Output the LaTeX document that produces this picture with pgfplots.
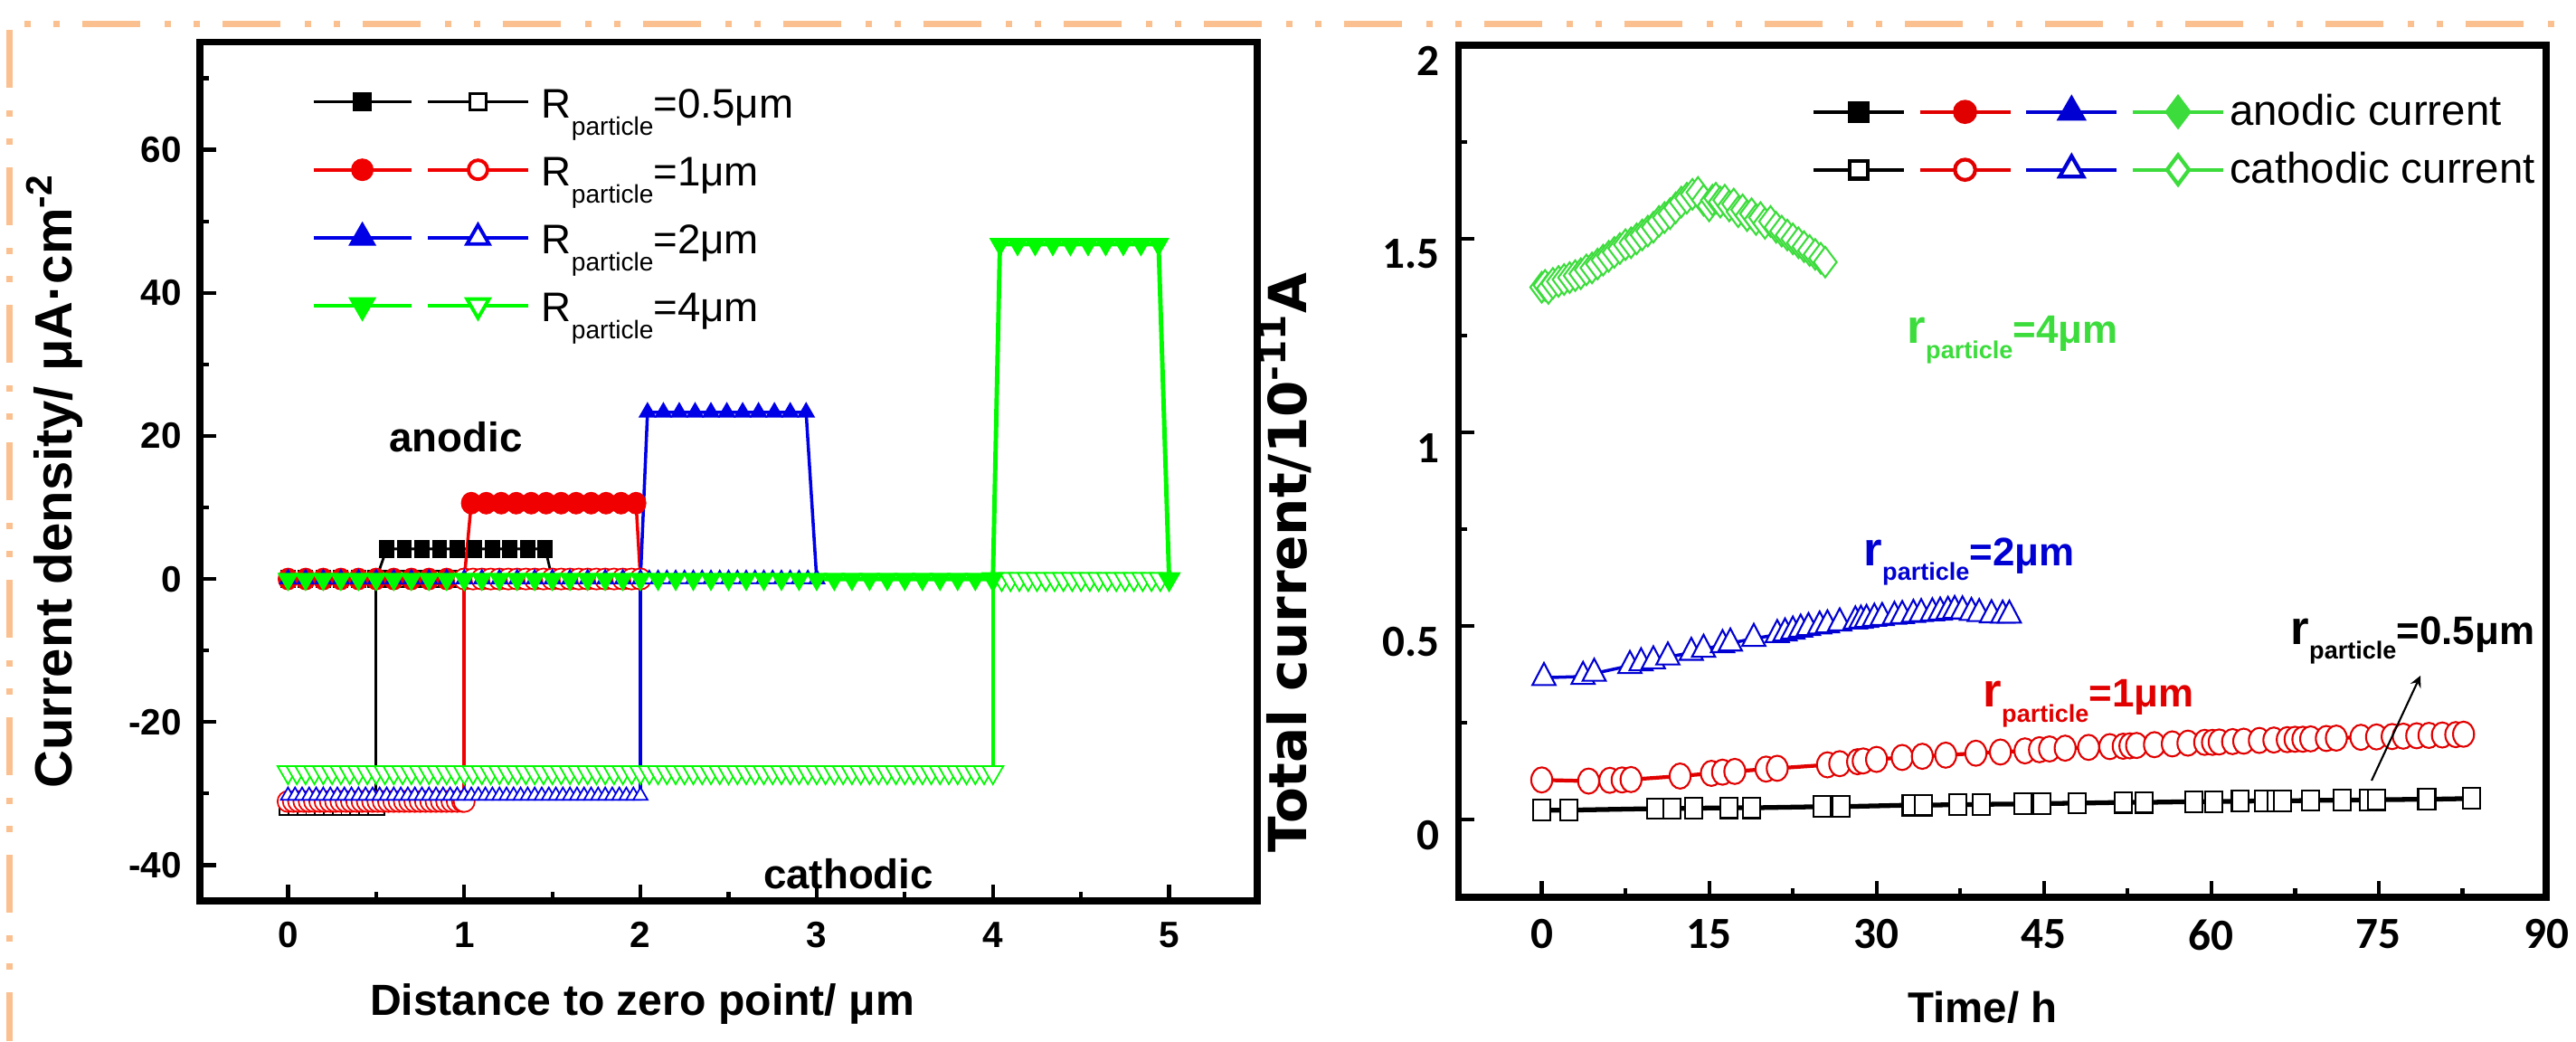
\documentclass[border=0pt]{standalone}
\usepackage{pgfplots}
\pgfplotsset{compat=1.18}
\usepackage{fontspec}
\setmainfont{Liberation Sans}
\newfontfamily\calfont{Carlito}
\newfontfamily\dvfont{DejaVu Sans}
\definecolor{bord}{RGB}{250,192,143}
\definecolor{lgreen}{RGB}{0,250,0}
\definecolor{rgreen}{RGB}{60,220,60}
\definecolor{lred}{RGB}{240,0,0}
\definecolor{lblue}{RGB}{0,0,230}
\definecolor{rred}{RGB}{225,0,0}
\definecolor{rblue}{RGB}{0,0,210}
\newcommand{\lsub}[1]{\raisebox{-5.3pt}{\fontsize{8}{8}\selectfont #1}}
\newcommand{\rsub}[1]{\raisebox{-4.8pt}{\fontsize{7.7}{7.7}\selectfont\bfseries #1}}
\pgfplotsset{
  myaxis/.style={
    scale only axis, anchor=south west,
    axis line style={line width=2pt},
    tick align=inside, tick pos=left,
    major tick length=0.18cm, minor tick length=0.1cm,
    every tick/.append style={black, line width=1.2pt},
    /pgf/number format/assume math mode=true,
  },
  limgA/.style={legend image code/.code={\draw[mark repeat=2,mark phase=2] plot coordinates {(0cm,0cm) (0.54cm,0cm) (1.08cm,0cm)}; \path (1.19cm,0cm);}},
  limgB/.style={legend image code/.code={\draw[mark repeat=2,mark phase=2] plot coordinates {(0cm,0cm) (0.555cm,0cm) (1.11cm,0cm)}; \path (1.24cm,0cm);}},
  rimgA/.style={legend image code/.code={\draw[mark repeat=2,mark phase=2] plot coordinates {(0cm,0cm) (0.5cm,0cm) (1.0cm,0cm)}; \path (1.10cm,0cm);}},
  rimgB/.style={legend image code/.code={\draw[mark repeat=2,mark phase=2] plot coordinates {(0cm,0cm) (0.5cm,0cm) (1.0cm,0cm)}; \path (1.05cm,0cm);}},
}
\begin{document}
\begin{tikzpicture}[x=1cm,y=1cm]
\useasboundingbox (0,0) rectangle (28.48,11.51);
% decorative frame
\draw[bord, line width=0.07cm, dash pattern=on 0.07cm off 0.25cm on 0.07cm off 0.25cm on 0.64cm off 0.27cm] (0.27,11.24) -- (28.48,11.24);
\draw[bord, line width=0.07cm, dash pattern=on 0.64cm off 0.25cm on 0.07cm off 0.24cm on 0.07cm off 0.25cm] (0.10,11.18) -- (0.10,0);

%================ LEFT PANEL =================
\begin{axis}[myaxis,
  at={(2.21cm,1.55cm)}, width=11.69cm, height=9.49cm,
  xmin=-0.5, xmax=5.5, ymin=-45, ymax=75,
  xtick={0,1,2,3,4,5}, ytick={-40,-20,0,20,40,60},
  minor xtick={0.5,1.5,2.5,3.5,4.5},
  minor ytick={-30,-10,10,30,50,70},
  xticklabel style={font=\bfseries\fontsize{11.5}{11.5}\selectfont, yshift=-0.11cm},
  yticklabel style={font=\bfseries\fontsize{11.5}{11.5}\selectfont, xshift=-0.08cm},
  legend style={draw=none, fill=none, at={(0.1052,0.971)}, anchor=north west,
    inner sep=0pt, column sep=0pt, row sep=0pt,
    nodes={inner sep=0pt, text height=0.555cm, text depth=0.195cm},
    font=\fontsize{13}{13}\selectfont},
  legend cell align=left, legend columns=2,
]
% black R=0.5
\addplot[forget plot, black, line width=0.8pt, mark=square*, mark size=2.2pt, mark options={line width=0.4pt, yscale=1.2}] coordinates {
(0,0)(0.1,0)(0.2,0)(0.3,0)(0.4,0)(0.5,0)(0.56,4.2)(0.66,4.2)(0.76,4.2)(0.86,4.2)(0.96,4.2)(1.06,4.2)(1.16,4.2)(1.26,4.2)(1.36,4.2)(1.46,4.2)(1.5,0)};
\addplot[forget plot, black, line width=0.8pt, mark=square*, mark size=2.6pt, mark options={fill=white, line width=0.5pt}] coordinates {
(0,-31.8)(0.05,-31.8)(0.1,-31.8)(0.15,-31.8)(0.2,-31.8)(0.25,-31.8)(0.3,-31.8)(0.35,-31.8)(0.4,-31.8)(0.45,-31.8)(0.5,-31.8)
(0.5,0)(0.55,0)(0.6,0)(0.65,0)(0.7,0)(0.75,0)(0.8,0)(0.85,0)(0.9,0)(0.95,0)(1,0)(1.05,0)(1.1,0)(1.15,0)(1.2,0)(1.25,0)(1.3,0)(1.35,0)(1.4,0)(1.45,0)(1.5,0)};
% red R=1
\addplot[forget plot, lred, line width=1pt, mark=*, mark size=3pt, mark options={line width=0.5pt, yscale=1.1}] coordinates {
(0,0)(0.1,0)(0.2,0)(0.3,0)(0.4,0)(0.5,0)(0.6,0)(0.7,0)(0.8,0)(0.9,0)(1,0)
(1.04,10.6)(1.125,10.6)(1.21,10.6)(1.295,10.6)(1.38,10.6)(1.465,10.6)(1.55,10.6)(1.635,10.6)(1.72,10.6)(1.805,10.6)(1.89,10.6)(1.975,10.6)(2,0)};
\addplot[forget plot, lred, line width=1pt, mark=*, mark size=3.3pt, mark options={fill=white, line width=0.5pt}] coordinates {
(0,-31.1)(0.03,-31.1)(0.06,-31.1)(0.09,-31.1)(0.12,-31.1)(0.15,-31.1)(0.18,-31.1)(0.21,-31.1)(0.24,-31.1)(0.27,-31.1)(0.3,-31.1)(0.33,-31.1)(0.36,-31.1)(0.39,-31.1)(0.42,-31.1)(0.45,-31.1)(0.48,-31.1)(0.51,-31.1)(0.54,-31.1)(0.57,-31.1)(0.6,-31.1)(0.63,-31.1)(0.66,-31.1)(0.69,-31.1)(0.72,-31.1)(0.75,-31.1)(0.78,-31.1)(0.81,-31.1)(0.84,-31.1)(0.87,-31.1)(0.9,-31.1)(0.93,-31.1)(0.96,-31.1)(0.99,-31.1)(1,-31.1)
(1,0)(1.05,0)(1.1,0)(1.15,0)(1.2,0)(1.25,0)(1.3,0)(1.35,0)(1.4,0)(1.45,0)(1.5,0)(1.55,0)(1.6,0)(1.65,0)(1.7,0)(1.75,0)(1.8,0)(1.85,0)(1.9,0)(1.95,0)(2,0)};
% blue R=2
\addplot[forget plot, lblue, line width=1pt, mark=triangle*, mark size=2.8pt, mark options={line width=0.5pt}] coordinates {
(0,0)(0.1,0)(0.2,0)(0.3,0)(0.4,0)(0.5,0)(0.6,0)(0.7,0)(0.8,0)(0.9,0)(1,0)(1.1,0)(1.2,0)(1.3,0)(1.4,0)(1.5,0)(1.6,0)(1.7,0)(1.8,0)(1.9,0)(2,0)
(2.04,23.3)(2.13,23.3)(2.22,23.3)(2.31,23.3)(2.4,23.3)(2.49,23.3)(2.58,23.3)(2.67,23.3)(2.76,23.3)(2.85,23.3)(2.94,23.3)(3,0)};
\addplot[forget plot, lblue, line width=1pt, mark=triangle*, mark size=2.6pt, mark options={fill=white, line width=0.5pt}] coordinates {
(0,-30.3)(0.04,-30.3)(0.08,-30.3)(0.12,-30.3)(0.16,-30.3)(0.2,-30.3)(0.24,-30.3)(0.28,-30.3)(0.32,-30.3)(0.36,-30.3)(0.4,-30.3)(0.44,-30.3)(0.48,-30.3)(0.52,-30.3)(0.56,-30.3)(0.6,-30.3)(0.64,-30.3)(0.68,-30.3)(0.72,-30.3)(0.76,-30.3)(0.8,-30.3)(0.84,-30.3)(0.88,-30.3)(0.92,-30.3)(0.96,-30.3)(1,-30.3)(1.04,-30.3)(1.08,-30.3)(1.12,-30.3)(1.16,-30.3)(1.2,-30.3)(1.24,-30.3)(1.28,-30.3)(1.32,-30.3)(1.36,-30.3)(1.4,-30.3)(1.44,-30.3)(1.48,-30.3)(1.52,-30.3)(1.56,-30.3)(1.6,-30.3)(1.64,-30.3)(1.68,-30.3)(1.72,-30.3)(1.76,-30.3)(1.8,-30.3)(1.84,-30.3)(1.88,-30.3)(1.92,-30.3)(1.96,-30.3)(2,-30.3)
(2,0)(2.05,0)(2.1,0)(2.15,0)(2.2,0)(2.25,0)(2.3,0)(2.35,0)(2.4,0)(2.45,0)(2.5,0)(2.55,0)(2.6,0)(2.65,0)(2.7,0)(2.75,0)(2.8,0)(2.85,0)(2.9,0)(2.95,0)(3,0)};
% green R=4
\addplot[forget plot, lgreen, line width=1pt, mark=triangle*, mark size=3.8pt, mark options={rotate=180, fill=white, line width=0.5pt}] coordinates {
(0,-27)(0.05,-27)(0.1,-27)(0.15,-27)(0.2,-27)(0.25,-27)(0.3,-27)(0.35,-27)(0.4,-27)(0.45,-27)(0.5,-27)(0.55,-27)(0.6,-27)(0.65,-27)(0.7,-27)(0.75,-27)(0.8,-27)(0.85,-27)(0.9,-27)(0.95,-27)(1,-27)(1.05,-27)(1.1,-27)(1.15,-27)(1.2,-27)(1.25,-27)(1.3,-27)(1.35,-27)(1.4,-27)(1.45,-27)(1.5,-27)(1.55,-27)(1.6,-27)(1.65,-27)(1.7,-27)(1.75,-27)(1.8,-27)(1.85,-27)(1.9,-27)(1.95,-27)(2,-27)(2.05,-27)(2.1,-27)(2.15,-27)(2.2,-27)(2.25,-27)(2.3,-27)(2.35,-27)(2.4,-27)(2.45,-27)(2.5,-27)(2.55,-27)(2.6,-27)(2.65,-27)(2.7,-27)(2.75,-27)(2.8,-27)(2.85,-27)(2.9,-27)(2.95,-27)(3,-27)(3.05,-27)(3.1,-27)(3.15,-27)(3.2,-27)(3.25,-27)(3.3,-27)(3.35,-27)(3.4,-27)(3.45,-27)(3.5,-27)(3.55,-27)(3.6,-27)(3.65,-27)(3.7,-27)(3.75,-27)(3.8,-27)(3.85,-27)(3.9,-27)(3.95,-27)(4,-27)
(4,0)(4.05,0)(4.1,0)(4.15,0)(4.2,0)(4.25,0)(4.3,0)(4.35,0)(4.4,0)(4.45,0)(4.5,0)(4.55,0)(4.6,0)(4.65,0)(4.7,0)(4.75,0)(4.8,0)(4.85,0)(4.9,0)(4.95,0)(5,0)};
\addplot[forget plot, lgreen, line width=1.4pt, mark=triangle*, mark size=3.4pt, mark options={rotate=180, line width=0.5pt}] coordinates {
(0,0)(0.1,0)(0.2,0)(0.3,0)(0.4,0)(0.5,0)(0.6,0)(0.7,0)(0.8,0)(0.9,0)(1,0)(1.1,0)(1.2,0)(1.3,0)(1.4,0)(1.5,0)(1.6,0)(1.7,0)(1.8,0)(1.9,0)(2,0)(2.1,0)(2.2,0)(2.3,0)(2.4,0)(2.5,0)(2.6,0)(2.7,0)(2.8,0)(2.9,0)(3,0)(3.1,0)(3.2,0)(3.3,0)(3.4,0)(3.5,0)(3.6,0)(3.7,0)(3.8,0)(3.9,0)(4,0)
(4.04,46.8)(4.14,46.8)(4.24,46.8)(4.34,46.8)(4.44,46.8)(4.54,46.8)(4.64,46.8)(4.74,46.8)(4.84,46.8)(4.94,46.8)(5,0)};
% legend
\addlegendimage{black, line width=0.8pt, mark=square*, mark size=2.6pt, limgA}
\addlegendentry{}
\addlegendimage{black, line width=0.8pt, mark=square*, mark size=2.6pt, mark options={fill=white}, limgB}
\addlegendentry{R\lsub{particle}=0.5μm}
\addlegendimage{lred, line width=1.1pt, mark=*, mark size=3pt, limgA}
\addlegendentry{}
\addlegendimage{lred, line width=1.1pt, mark=*, mark size=3pt, mark options={fill=white}, limgB}
\addlegendentry{R\lsub{particle}=1μm}
\addlegendimage{lblue, line width=1.1pt, mark=triangle*, mark size=4pt, limgA}
\addlegendentry{}
\addlegendimage{lblue, line width=1.1pt, mark=triangle*, mark size=4pt, mark options={fill=white}, limgB}
\addlegendentry{R\lsub{particle}=2μm}
\addlegendimage{lgreen, line width=1.1pt, mark=triangle*, mark size=4pt, mark options={rotate=180}, limgA}
\addlegendentry{}
\addlegendimage{lgreen, line width=1.1pt, mark=triangle*, mark size=4pt, mark options={rotate=180, fill=white}, limgB}
\addlegendentry{R\lsub{particle}=4μm}
\end{axis}

%================ RIGHT PANEL =================
\begin{axis}[myaxis,
  at={(16.12cm,1.59cm)}, width=12.03cm, height=9.42cm,
  xmin=-7.5, xmax=90, ymin=-0.2, ymax=2,
  xtick={0,15,30,45,60,75,90}, ytick={0,0.5,1,1.5,2},
  minor xtick={7.5,22.5,37.5,52.5,67.5,82.5},
  minor ytick={0.25,0.75,1.25,1.75},
  xticklabel style={font=\calfont\bfseries\fontsize{14}{14}\selectfont, yshift=-0.12cm},
  yticklabel style={font=\calfont\bfseries\fontsize{14}{14}\selectfont, xshift=-0.08cm, yshift=-0.17cm},
  legend style={draw=none, fill=none, at={(0.3242,0.9565)}, anchor=north west,
    inner sep=0pt, column sep=0pt, row sep=0pt,
    nodes={inner sep=0pt, text height=0.47cm, text depth=0.17cm},
    font=\fontsize{13.5}{13.5}\selectfont},
  legend cell align=left, legend columns=4,
]
% green r=4
\addplot[forget plot, rgreen, line width=0.8pt, mark=diamond*, mark size=4.8pt, mark options={fill=white, line width=0.6pt}] coordinates {
(0.0,1.375)(0.3,1.38)(0.6,1.372)(1.0,1.385)(1.5,1.39)(2.0,1.395)(2.5,1.40)(3.0,1.405)(3.5,1.41)(4.0,1.42)(4.5,1.425)(5.0,1.435)(5.5,1.445)(6.0,1.455)(6.5,1.465)(7.0,1.475)(7.5,1.485)(8.0,1.49)(8.5,1.50)(9.0,1.51)(9.5,1.52)(10.0,1.53)(10.5,1.545)(11.0,1.555)(11.5,1.565)(12.0,1.58)(12.5,1.595)(13.0,1.605)(13.5,1.615)(14.0,1.62)(14.5,1.60)(15.0,1.585)(15.3,1.60)(15.6,1.605)(16.0,1.595)(16.4,1.60)(16.8,1.585)(17.2,1.59)(17.6,1.57)(18.0,1.575)(18.4,1.56)(18.8,1.565)(19.2,1.55)(19.6,1.555)(20.0,1.54)(20.5,1.545)(21.0,1.53)(21.5,1.52)(22.0,1.51)(22.5,1.50)(23.0,1.49)(23.5,1.48)(24.0,1.47)(24.5,1.46)(25.0,1.45)(25.4,1.44)};
% blue r=2
\addplot[forget plot, rblue, line width=1pt, mark=triangle*, mark size=4.2pt, mark options={fill=white, line width=0.6pt, yscale=1.1}] coordinates {
(0.2,0.367)(3.7,0.37)(4.7,0.378)(7.9,0.398)(8.9,0.405)(10.0,0.41)(11.3,0.42)(13.4,0.432)(14.5,0.44)(16.2,0.452)(16.9,0.456)(19.0,0.468)(21.1,0.478)(21.8,0.482)(22.5,0.487)(23.2,0.492)(23.9,0.496)(24.9,0.5)(25.6,0.503)(26.7,0.508)(28.1,0.513)(28.6,0.515)(29.1,0.517)(29.8,0.52)(30.5,0.522)(31.6,0.525)(32.3,0.527)(33.3,0.53)(34.0,0.532)(35.0,0.534)(35.7,0.536)(36.4,0.538)(37.0,0.54)(37.7,0.539)(38.5,0.535)(39.2,0.532)(40.3,0.529)(41.3,0.528)(41.9,0.528)};
% red r=1
\addplot[forget plot, rred, line width=1.2pt, mark=*, mark size=3.3pt, mark options={fill=white, line width=0.6pt, yscale=1.2}] coordinates {
(0,0.103)(4.2,0.100)(6.1,0.102)(7.2,0.103)(8.0,0.104)(12.4,0.113)(15.2,0.120)(16.2,0.123)(17.3,0.125)(20.1,0.131)(21.1,0.133)(25.6,0.142)(26.7,0.145)(28.3,0.150)(28.8,0.152)(30.0,0.156)(32.3,0.161)(34.1,0.164)(36.2,0.167)(38.9,0.172)(41.1,0.175)(43.3,0.178)(44.6,0.181)(45.5,0.183)(46.9,0.185)(49.0,0.187)(50.9,0.189)(52.1,0.190)(52.7,0.191)(53.3,0.192)(54.9,0.194)(56.5,0.196)(57.9,0.198)(59.4,0.200)(60.1,0.200)(60.7,0.201)(61.9,0.202)(62.9,0.203)(64.3,0.205)(65.6,0.206)(66.8,0.207)(67.5,0.208)(68.2,0.208)(68.9,0.209)(70.3,0.210)(71.2,0.211)(73.4,0.213)(74.8,0.214)(76.2,0.215)(77.2,0.216)(78.4,0.217)(79.5,0.218)(80.7,0.219)(81.9,0.220)(82.6,0.221)};
% black r=0.5
\addplot[forget plot, black, line width=1.5pt, mark=square*, mark size=2.7pt, mark options={fill=white, line width=0.6pt, yscale=1.2}] coordinates {
(0,0.025)(2.4,0.025)(10.2,0.029)(11.7,0.029)(13.6,0.030)(16.8,0.031)(18.8,0.031)(25.1,0.034)(26.8,0.034)(33.1,0.038)(34.2,0.038)(37.3,0.039)(39.4,0.040)(43.1,0.041)(44.8,0.042)(48.0,0.043)(52.1,0.045)(54.0,0.045)(58.4,0.047)(60.2,0.047)(62.6,0.048)(64.7,0.049)(65.8,0.049)(66.4,0.049)(68.9,0.050)(71.7,0.051)(74.1,0.051)(74.8,0.052)(79.3,0.053)(83.3,0.055)};
% legend
\addlegendimage{black, line width=1.2pt, mark=square*, mark size=2.8pt, rimgA}
\addlegendentry{}
\addlegendimage{rred, line width=1.2pt, mark=*, mark size=3.2pt, rimgA}
\addlegendentry{}
\addlegendimage{rblue, line width=1.2pt, mark=triangle*, mark size=4.3pt, rimgA}
\addlegendentry{}
\addlegendimage{rgreen, line width=1.2pt, mark=diamond*, mark size=4.6pt, rimgB}
\addlegendentry{anodic current}
\addlegendimage{black, line width=1.2pt, mark=square*, mark size=2.8pt, mark options={fill=white}, rimgA}
\addlegendentry{}
\addlegendimage{rred, line width=1.2pt, mark=*, mark size=3.2pt, mark options={fill=white}, rimgA}
\addlegendentry{}
\addlegendimage{rblue, line width=1.2pt, mark=triangle*, mark size=4.3pt, mark options={fill=white}, rimgA}
\addlegendentry{}
\addlegendimage{rgreen, line width=1.2pt, mark=diamond*, mark size=4.6pt, mark options={fill=white}, rimgB}
\addlegendentry{cathodic current}
\end{axis}

%================ TEXT =================
% left panel
\node[anchor=base, font=\bfseries\fontsize{13.7}{13.7}\selectfont, inner sep=0pt] at (7.10,0.29) {Distance to zero point/ μm};
\node[rotate=90, anchor=base, font=\bfseries\fontsize{16.5}{16.5}\selectfont, inner sep=0pt] at (0.80,6.19) {Current density/ μA·cm\textsuperscript{-2}};
\node[font=\bfseries\fontsize{13}{13}\selectfont, inner sep=0pt] at (5.04,6.68) {anodic};
\node[font=\bfseries\fontsize{13}{13}\selectfont, inner sep=0pt] at (9.38,1.85) {cathodic};
% right panel
\node[anchor=base, font=\bfseries\fontsize{13.5}{13.5}\selectfont, inner sep=0pt] at (21.92,0.21) {Time/ h};
\node[rotate=90, anchor=base, font=\dvfont\bfseries\fontsize{16.5}{16.5}\selectfont, inner sep=0pt] at (14.44,5.29) {Total current/10\textsuperscript{-11}A};
\node[anchor=base west, inner sep=0pt, text=rgreen, font=\bfseries\fontsize{12.5}{12.5}\selectfont] at (21.08,7.71) {{\fontsize{15}{15}\selectfont r}\rsub{particle}=4μm};
\node[anchor=base west, inner sep=0pt, text=rblue, font=\bfseries\fontsize{12.5}{12.5}\selectfont] at (20.60,5.26) {{\fontsize{15}{15}\selectfont r}\rsub{particle}=2μm};
\node[anchor=base west, inner sep=0pt, text=rred, font=\bfseries\fontsize{12.5}{12.5}\selectfont] at (21.92,3.69) {{\fontsize{15}{15}\selectfont r}\rsub{particle}=1μm};
\node[anchor=base west, inner sep=0pt, text=black, font=\bfseries\fontsize{12.5}{12.5}\selectfont] at (25.32,4.39) {{\fontsize{15}{15}\selectfont r}\rsub{particle}=0.5μm};
\draw[black, line width=0.6pt, -stealth] (26.22,2.88) -- (26.76,4.04);
\end{tikzpicture}
\end{document}
